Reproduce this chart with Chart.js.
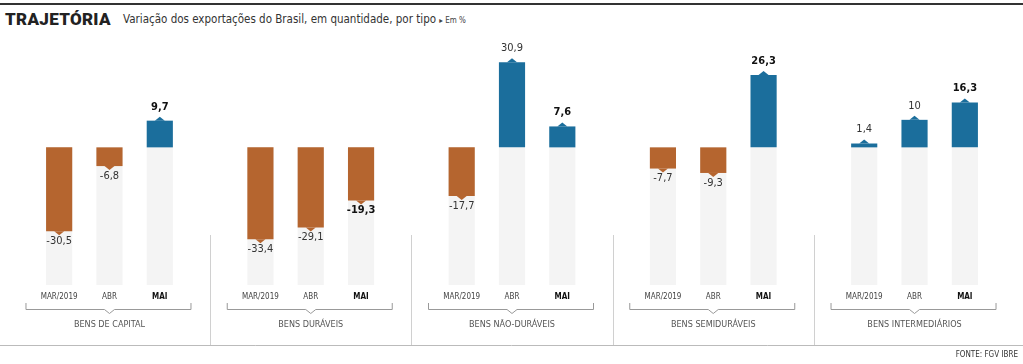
<!DOCTYPE html>
<html>
<head>
<meta charset="utf-8">
<script src="https://cdn.jsdelivr.net/npm/chart.js@4"></script>
<style>
  body { margin: 0; background: #fff; }
  #wrap { position: relative; width: 1023px; height: 364px; }
  #topline { position: absolute; left: 0; top: 3px; width: 1023px; height: 2px; background: #333; }
  #title { position: absolute; left: 5px; top: 9px; font: 900 17px Roboto, sans-serif; color: #222; letter-spacing: 0.3px; }
  #sub { position: absolute; left: 123px; top: 12px; font: 11.5px "Liberation Sans Narrow", "DejaVu Sans Condensed", Roboto, sans-serif; color: #333; white-space: nowrap; }
  #sub small { font-size: 8px; color: #444; }
  canvas { position: absolute; left: 0; top: 0; }
</style>
</head>
<body>
<div id="wrap">
  <div id="topline"></div>
  <div id="title">TRAJETÓRIA</div>
  <div id="sub">Variação dos exportações do Brasil, em quantidade, por tipo <small>▸ Em %</small></div>
  <canvas id="chart" width="1023" height="364"></canvas>
</div>
<script>
const groups = ['BENS DE CAPITAL', 'BENS DURÁVEIS', 'BENS NÃO-DURÁVEIS', 'BENS SEMIDURÁVEIS', 'BENS INTERMEDIÁRIOS'];
const months = ['MAR/2019', 'ABR', 'MAI'];
const mar = [-30.5, -33.4, -17.7, -7.7, 1.4];
const abr = [-6.8, -29.1, 30.9, -9.3, 10];
const mai = [9.7, -19.3, 7.6, 26.3, 16.3];
const base = -50; // bottom of the pale column behind each bar

const orange = '#b5652f';
const blue = '#1b6e9c';
const narrow = '"Liberation Sans Narrow", "DejaVu Sans Condensed", Roboto, sans-serif';

// lay the groups out on one category axis, with an empty slot between groups
const labels = [], values = [], backs = [], gaps = [];
groups.forEach((g, gi) => {
    [mar, abr, mai].forEach((serie, mi) => {
        labels.push(g + '|' + months[mi]);
        values.push(serie[gi]);
        backs.push(base);
    });
    if (gi < groups.length - 1) {
        gaps.push(labels.length);
        labels.push('gap' + gi);
        values.push(null);
        backs.push(null);
    }
});

function fmt(v) {
    return Number.isInteger(v) ? String(v) : v.toFixed(1).replace('.', ',');
}

const decor = {
    id: 'decor',
    afterDatasetsDraw(chart) {
        const ctx = chart.ctx;
        const x = chart.scales.x;
        const meta = chart.getDatasetMeta(1);
        ctx.save();
        // tips and value labels
        meta.data.forEach((bar, i) => {
            const v = values[i];
            if (v === null) return;
            const dir = v < 0 ? 1 : -1;
            ctx.fillStyle = v < 0 ? orange : blue;
            ctx.beginPath();
            ctx.moveTo(bar.x - 5, bar.y);
            ctx.lineTo(bar.x + 5, bar.y);
            ctx.lineTo(bar.x, bar.y + dir * 4);
            ctx.closePath();
            ctx.fill();
            const isMai = i % 4 === 2;
            ctx.font = (isMai ? 'bold ' : '') + '11px ' + narrow;
            ctx.fillStyle = isMai ? '#111' : '#333';
            ctx.textAlign = 'center';
            ctx.textBaseline = 'middle';
            ctx.fillText(fmt(v), bar.x, v < 0 ? bar.y + 10 : bar.y - 14);
        });
        // month labels, brackets and group names
        groups.forEach((g, gi) => {
            const first = gi * 4;
            ctx.textAlign = 'center';
            ctx.textBaseline = 'middle';
            for (let m = 0; m < 3; m++) {
                const px = x.getPixelForValue(first + m);
                ctx.font = (m === 2 ? 'bold ' : '') + '8px ' + narrow;
                ctx.fillStyle = m === 2 ? '#111' : '#444';
                ctx.fillText(months[m], px, 297);
            }
            const cx = x.getPixelForValue(first + 1);
            const l = cx - 84, r = cx + 82;
            ctx.strokeStyle = '#999';
            ctx.lineWidth = 1;
            ctx.beginPath();
            ctx.moveTo(l + 0.5, 303);
            ctx.lineTo(l + 0.5, 309.5);
            ctx.lineTo(cx - 5, 309.5);
            ctx.lineTo(cx, 313.5);
            ctx.lineTo(cx + 5, 309.5);
            ctx.lineTo(r - 0.5, 309.5);
            ctx.lineTo(r - 0.5, 303);
            ctx.stroke();
            ctx.font = '9px ' + narrow;
            ctx.fillStyle = '#555';
            ctx.fillText(g, cx, 325);
        });
        // separators
        ctx.strokeStyle = '#d0d0d0';
        gaps.forEach(i => {
            const px = Math.round(x.getPixelForValue(i)) + 0.5;
            ctx.beginPath();
            ctx.moveTo(px, 235);
            ctx.lineTo(px, 345);
            ctx.stroke();
        });
        ctx.strokeStyle = '#bbb';
        ctx.beginPath();
        ctx.moveTo(0, 345.5);
        ctx.lineTo(1023, 345.5);
        ctx.stroke();
        ctx.font = '8px ' + narrow;
        ctx.fillStyle = '#333';
        ctx.textAlign = 'right';
        ctx.fillText('FONTE: FGV IBRE', 1018, 355);
        ctx.restore();
    }
};

new Chart(document.getElementById('chart'), {
    type: 'bar',
    data: {
        labels: labels,
        datasets: [{
            data: backs,
            backgroundColor: '#f4f4f4',
            grouped: false,
            order: 2,
        }, {
            data: values,
            backgroundColor: values.map(v => v < 0 ? orange : blue),
            grouped: false,
            order: 1,
        }],
    },
    options: {
        responsive: false,
        animation: false,
        layout: { padding: { left: 34, right: 33, top: 40, bottom: 79 } },
        datasets: { bar: { categoryPercentage: 1, barPercentage: 0.52 } },
        plugins: { legend: { display: false }, tooltip: { enabled: false } },
        scales: {
            x: { display: false },
            y: { display: false, min: -50, max: 39 },
        },
    },
    plugins: [decor],
});
</script>
</body>
</html>
